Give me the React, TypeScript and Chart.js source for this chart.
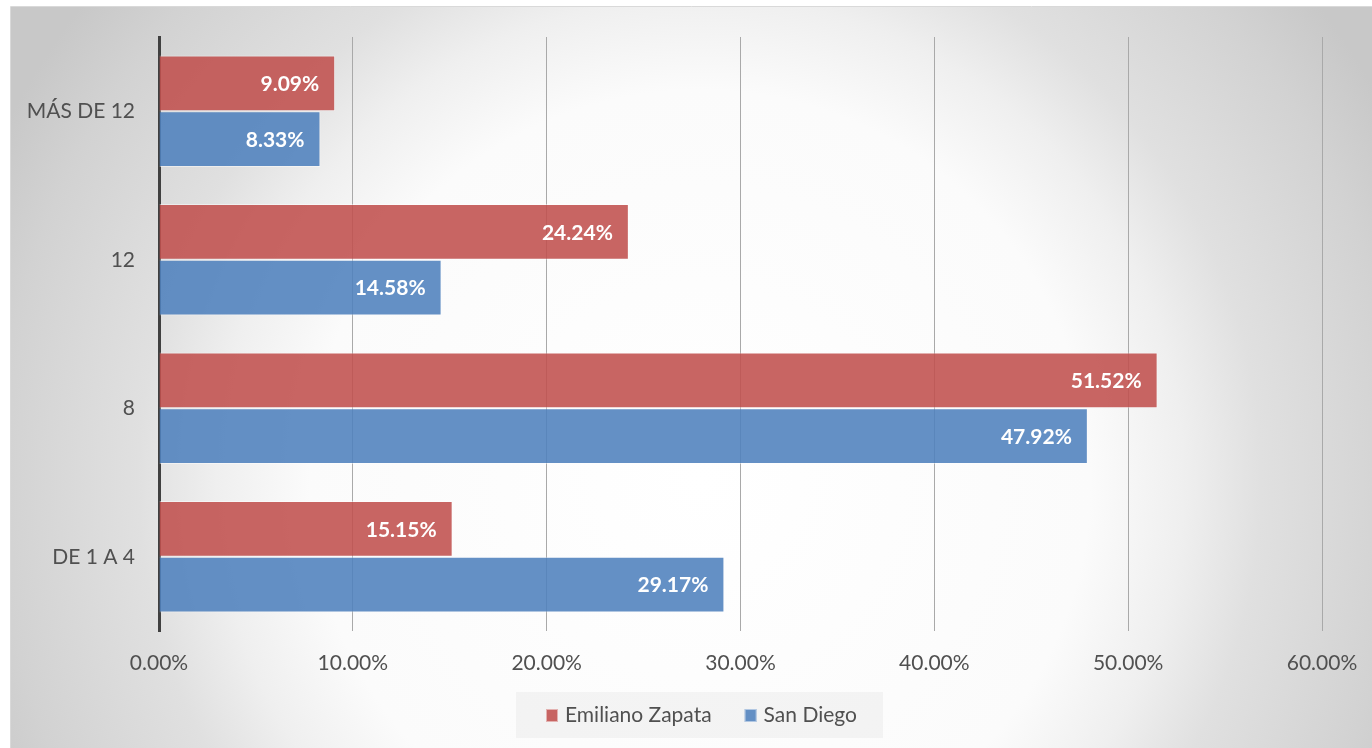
import React, { useEffect, useRef } from "react";
import { Chart, registerables } from "chart.js";

Chart.register(...registerables);

const categories = ["MÁS DE 12", "12", "8", "DE 1 A 4"];
const emilianoZapata = [9.09, 24.24, 51.52, 15.15];
const sanDiego = [8.33, 14.58, 47.92, 29.17];
const seriesNames = ["Emiliano Zapata", "San Diego"];
const xTicks = [0, 10, 20, 30, 40, 50, 60];

const FONT = "Lato, 'Open Sans', sans-serif";
const TEXT = "#505050";

const backgroundPlugin = {
  id: "bgPlugin",
  beforeDraw(chart: any) {
    const ctx = chart.ctx;
    const w = chart.width;
    const h = chart.height;
    ctx.save();
    ctx.fillStyle = "#ffffff";
    ctx.fillRect(0, 0, w, h);
    const g = ctx.createRadialGradient(700, 480, 0, 700, 480, 780);
    g.addColorStop(0, "#ffffff");
    g.addColorStop(0.5, "#fbfbfb");
    g.addColorStop(0.62, "#efefef");
    g.addColorStop(0.72, "#e0e0e0");
    g.addColorStop(0.9, "#d2d2d2");
    g.addColorStop(1, "#c8c8c8");
    ctx.fillStyle = g;
    ctx.fillRect(10, 7, w - 10, h - 7);
    ctx.strokeStyle = "#d9d9d9";
    ctx.lineWidth = 1;
    ctx.beginPath();
    ctx.moveTo(10.5, h);
    ctx.lineTo(10.5, 6.5);
    ctx.lineTo(w, 6.5);
    ctx.stroke();
    ctx.restore();
  },
};

const labelsPlugin = {
  id: "barLabels",
  afterDatasetsDraw(chart: any) {
    const ctx = chart.ctx;
    ctx.save();
    ctx.font = `bold 21px ${FONT}`;
    ctx.fillStyle = "#ffffff";
    ctx.textAlign = "right";
    ctx.textBaseline = "middle";
    chart.data.datasets.forEach((ds: any, di: number) => {
      const meta = chart.getDatasetMeta(di);
      meta.data.forEach((el: any, i: number) => {
        const v = ds.data[i] as number;
        ctx.fillText(v.toFixed(2) + "%", el.x - 16, el.y + 1);
      });
    });
    ctx.restore();
  },
};

const legendPlugin = {
  id: "customLegend",
  afterDraw(chart: any) {
    const ctx = chart.ctx;
    ctx.save();
    ctx.fillStyle = "rgba(0,0,0,0.035)";
    ctx.fillRect(516, 692, 367, 46);
    ctx.font = `21px ${FONT}`;
    ctx.textBaseline = "middle";
    ctx.textAlign = "left";
    const y = 715;
    let x = 546;
    chart.data.datasets.forEach((ds: any) => {
      ctx.fillStyle = ds.backgroundColor;
      ctx.fillRect(x, y - 6, 12, 13);
      ctx.strokeStyle = "rgba(255,255,255,0.5)";
      ctx.lineWidth = 1;
      ctx.strokeRect(x + 0.5, y - 5.5, 11, 12);
      ctx.fillStyle = TEXT;
      ctx.fillText(ds.label, x + 19, y);
      x += 19 + ctx.measureText(ds.label).width + 33;
    });
    ctx.restore();
  },
};

export default function App() {
  const ref = useRef<HTMLCanvasElement | null>(null);

  useEffect(() => {
    if (!ref.current) return;
    document.body.style.margin = "0";
    const chart = new Chart(ref.current, {
      type: "bar",
      data: {
        labels: categories,
        datasets: [
          {
            label: seriesNames[0],
            data: emilianoZapata,
            backgroundColor: "rgba(192,80,77,0.88)",
            borderColor: "rgba(255,255,255,0.45)",
            borderWidth: 1,
          },
          {
            label: seriesNames[1],
            data: sanDiego,
            backgroundColor: "rgba(79,129,189,0.88)",
            borderColor: "rgba(255,255,255,0.45)",
            borderWidth: 1,
          },
        ],
      },
      options: {
        indexAxis: "y",
        animation: false,
        responsive: false,
        devicePixelRatio: 1,
        layout: { padding: { top: 37, right: 50, bottom: 0, left: 0 } },
        datasets: {
          bar: { categoryPercentage: 0.75, barPercentage: 1 },
        },
        plugins: {
          legend: { display: false },
          tooltip: { enabled: false },
        },
        scales: {
          x: {
            min: 0,
            max: 60,
            afterBuildTicks(scale: any) {
              scale.ticks = xTicks.map((v) => ({ value: v }));
            },
            afterFit(scale: any) {
              scale.height = 117;
              scale.paddingLeft = 0;
              scale.paddingRight = 0;
            },
            grid: { color: "#a9a9a9", lineWidth: 1, drawTicks: false },
            border: { display: false },
            ticks: {
              padding: 20,
              color: TEXT,
              font: { family: FONT, size: 21 },
              callback: (v: any) => Number(v).toFixed(2) + "%",
            },
          },
          y: {
            afterFit(scale: any) {
              scale.width = 159;
              scale.paddingTop = 0;
              scale.paddingBottom = 0;
            },
            grid: { display: false, drawTicks: false },
            border: { display: true, color: "#404040", width: 3 },
            ticks: {
              padding: 24,
              color: TEXT,
              font: { family: FONT, size: 21 },
            },
          },
        },
      },
      plugins: [backgroundPlugin, labelsPlugin, legendPlugin],
    });
    return () => chart.destroy();
  }, []);

  return (
    <canvas
      ref={ref}
      width={1372}
      height={748}
      style={{ position: "absolute", left: 0, top: 0, display: "block" }}
    />
  );
}
